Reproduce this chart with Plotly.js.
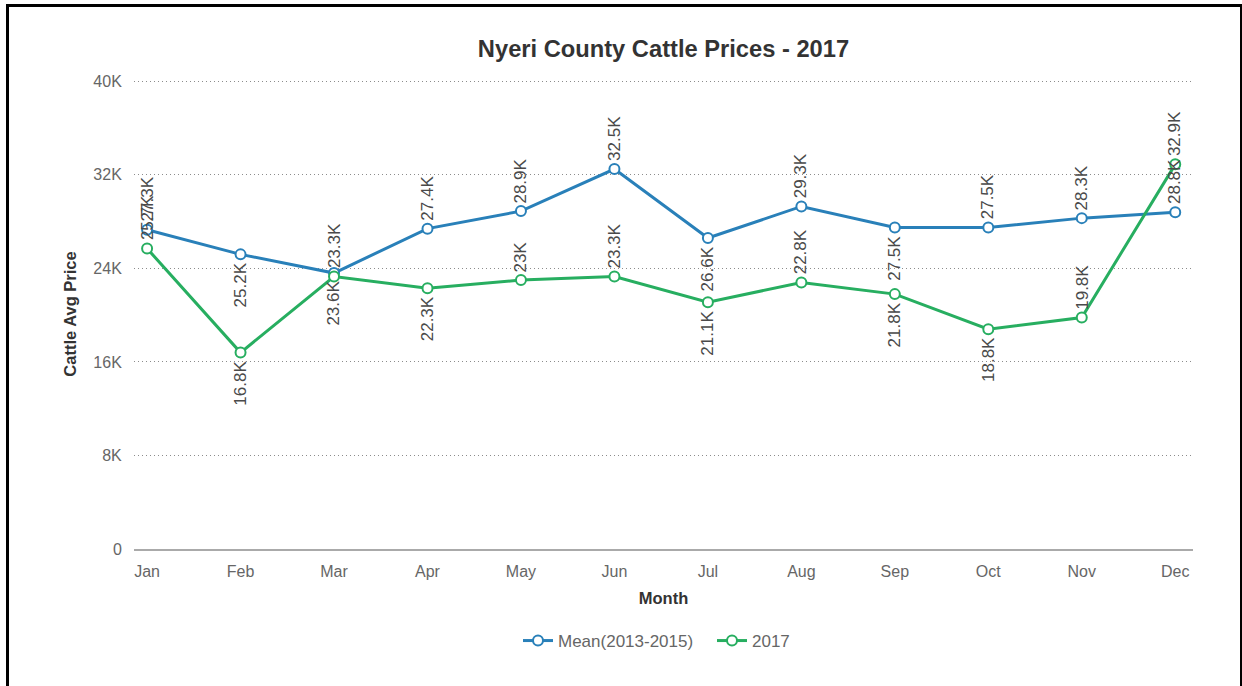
<!DOCTYPE html>
<html>
<head>
<meta charset="utf-8">
<script src="https://cdn.plot.ly/plotly-3.0.1.min.js"></script>
<style>
  html, body { margin: 0; padding: 0; background: #fff; }
  #frame { position: absolute; left: 6px; top: 4px; width: 1231px; height: 720px;
           border-left: 3px solid #000; border-top: 3px solid #000; border-right: 2px solid #000; }
  #chart { position: absolute; left: 0; top: 0; width: 1242px; height: 686px; }
</style>
</head>
<body>
<div id="frame"></div>
<div id="chart"></div>
<script>
// ---- data ----
const months = ["Jan","Feb","Mar","Apr","May","Jun","Jul","Aug","Sep","Oct","Nov","Dec"];
const meanValues = [27300, 25200, 23600, 27400, 28900, 32500, 26600, 29300, 27500, 27500, 28300, 28800];
const values2017 = [25700, 16800, 23300, 22300, 23000, 23300, 21100, 22800, 21800, 18800, 19800, 32900];
const meanLabelSide = ["above","below","below","above","above","above","below","above","below","above","above","above"];
const labelSide2017 = ["above","below","above","below","above","above","below","above","below","below","above","above"];
const yTickVals = [0, 8000, 16000, 24000, 32000, 40000];
const yTickText = ["0", "8K", "16K", "24K", "32K", "40K"];
const seriesNames = ["Mean(2013-2015)", "2017"];

const BLUE = "#2980b9", GREEN = "#27ae60";
const FONT = "Liberation Sans, Arial, Helvetica, sans-serif";

function fmtK(v) {
  const k = v / 1000;
  return (Math.round(k * 10) / 10).toString() + "K";
}

function series(name, vals, color) {
  return {
    type: "scatter", mode: "lines+markers", name: name,
    x: months, y: vals,
    line: { color: color, width: 3 },
    marker: { symbol: "circle", size: 10, color: "#ffffff", line: { color: color, width: 2 } },
    hoverinfo: "x+y"
  };
}

function labels(vals, sides) {
  return vals.map((v, i) => ({
    x: months[i], y: v, xref: "x", yref: "y",
    text: fmtK(v), showarrow: false, textangle: -90,
    xanchor: "center",
    yanchor: sides[i] === "above" ? "bottom" : "top",
    yshift: sides[i] === "above" ? 6 : -6,
    font: { family: FONT, size: 17, color: "#4a4a4a" }
  }));
}

const data = [series(seriesNames[0], meanValues, BLUE), series(seriesNames[1], values2017, GREEN)];

const layout = {
  width: 1242, height: 686,
  paper_bgcolor: "rgba(0,0,0,0)", plot_bgcolor: "rgba(0,0,0,0)",
  margin: { l: 134, r: 49, t: 79, b: 137 },
  font: { family: FONT, color: "#666666" },
  title: {
    text: "<b>Nyeri County Cattle Prices - 2017</b>",
    font: { family: FONT, size: 23.7, color: "#333333" },
    xref: "paper", x: 0.5, xanchor: "center",
    yref: "container", y: 1 - 48.5 / 686, yanchor: "middle"
  },
  xaxis: {
    type: "category",
    range: [-0.14, 11.19],
    showgrid: false, zeroline: false,
    showline: true, linecolor: "#aaaaaa", linewidth: 1.5,
    ticks: "outside", ticklen: 7, tickcolor: "rgba(0,0,0,0)",
    tickfont: { family: FONT, size: 16, color: "#666666" },
    title: { text: "<b>Month</b>", font: { family: FONT, size: 16.5, color: "#333333" }, standoff: 13 },
    fixedrange: true
  },
  yaxis: {
    range: [0, 40200],
    tickvals: yTickVals, ticktext: yTickText,
    showgrid: true, gridcolor: "#8c8c8c", gridwidth: 1, griddash: "1px,3px",
    zeroline: false, showline: false,
    ticks: "outside", ticklen: 8, tickcolor: "rgba(0,0,0,0)",
    tickfont: { family: FONT, size: 16, color: "#666666" },
    title: { text: "<b>Cattle Avg Price</b>", font: { family: FONT, size: 16.5, color: "#333333" }, standoff: 12 },
    fixedrange: true
  },
  showlegend: true,
  legend: {
    orientation: "h", xanchor: "left", x: (518 - 134) / 1059, y: (549 - 641) / 470, yanchor: "middle",
    font: { family: FONT, size: 17, color: "#666666" },
    itemwidth: 30, entrywidth: 149, bgcolor: "rgba(0,0,0,0)"
  },
  annotations: labels(meanValues, meanLabelSide).concat(labels(values2017, labelSide2017))
};

Plotly.newPlot("chart", data, layout, { displayModeBar: false, staticPlot: true });
</script>
</body>
</html>
